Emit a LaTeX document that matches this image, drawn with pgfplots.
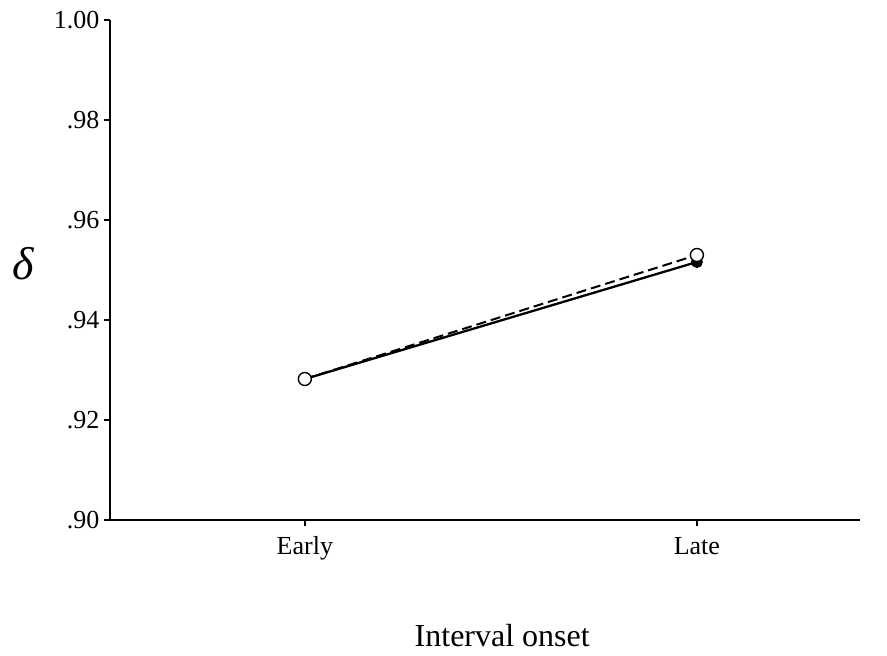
\documentclass[border=0pt]{standalone}
\usepackage{fontspec}
\setmainfont{Liberation Serif}
\usepackage{pgfplots}
\pgfplotsset{compat=1.18}
\begin{document}
\begin{tikzpicture}
\begin{axis}[
  scale only axis,
  width=750bp, height=500bp,
  xmin=-0.497, xmax=1.416,
  ymin=0.90, ymax=1.00,
  axis lines=left,
  axis line style={-, line width=1.6bp},
  tick style={line width=1.4bp, black},
  tick align=outside,
  major tick length=6bp,
  xtick={0,1}, xticklabels={Early,Late},
  ytick={0.90,0.92,0.94,0.96,0.98,1.00},
  yticklabels={.90,.92,.94,.96,.98,1.00},
  minor tick num=0,
  tick label style={font=\fontsize{26bp}{29bp}\selectfont},
  xticklabel style={text height=18bp, text depth=6bp, yshift=-7bp},
  yticklabel style={xshift=-1bp},
  xlabel={Interval onset},
  xlabel style={font=\fontsize{32bp}{36bp}\selectfont, at={(axis description cs:0.523,-0.252)}, anchor=base},
  ylabel={\itshape δ},
  ylabel style={font=\fontsize{46bp}{48bp}\selectfont, rotate=-90, at={(axis description cs:-0.116,0.512)}, anchor=center},
  clip=false,
]
\addplot[black, line width=2.3bp, mark=*, mark size=5.5bp, mark options={solid, fill=black, line width=1bp}]
  coordinates {(0,0.9282) (1,0.9516)};
\addplot[black, line width=2bp, dashed, dash pattern=on 10bp off 5bp, mark=*, mark size=6.5bp, mark options={solid, fill=white, line width=1.4bp}]
  coordinates {(0,0.9282) (1,0.9530)};
\end{axis}
\path (-110bp,-136bp) rectangle (777bp,520bp);
\end{tikzpicture}
\end{document}
